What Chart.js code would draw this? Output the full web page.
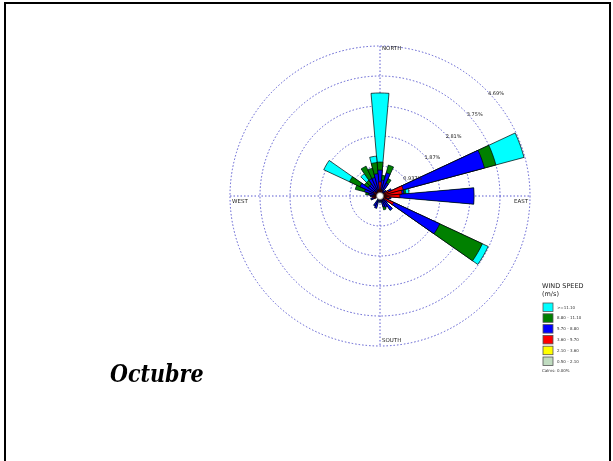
<!DOCTYPE html>
<html>
<head>
<meta charset="utf-8">
<title>Octubre - Rosa de vientos</title>
<script src="https://cdn.jsdelivr.net/npm/chart.js@4/dist/chart.umd.min.js"></script>
<style>
  html, body { margin: 0; padding: 0; background: #ffffff; }
  canvas { display: block; }
</style>
</head>
<body>
<canvas id="rose" width="613" height="461"></canvas>
<script>
// 36 direction sectors, 10 degrees each, clockwise from north
const directions = Array.from({ length: 36 }, (_, i) => (i * 10) + '°');

// Frequency (%) of each wind-speed class per direction sector
const speed050_210  = [0,0,0,0,0,0,0,0,0,0,0,0,0,0,0,0,0,0,0,0,0,0,0,0,0,0,0,0,0,0,0,0,0,0,0,0];
const speed210_360  = [0.03,0.03,0.03,0,0,0,0.03,0.05,0.05,0.05,0.03,0,0.05,0,0,0,0,0,0.1,0,0,0,0,0,0,0,0.03,0.03,0,0,0.03,0,0,0.03,0.03,0.03];
const speed360_570  = [0.41,0.17,0.16,0.1,0.08,0.1,0.27,0.7,0.64,0.57,0.27,0.2,0.42,0.1,0.1,0.1,0.05,0,0,0,0.1,0,0,0,0.1,0.2,0.22,0.17,0.15,0.15,0.19,0.15,0.15,0.12,0.17,0.17];
const speed570_880  = [0.37,0.3,0.56,0.35,0.12,0.15,0.1,2.63,0.06,2.32,0.05,0.1,1.59,0.2,0.45,0.3,0.3,0.15,0.1,0.1,0.3,0.35,0,0,0,0.1,0,0.1,0.2,0.35,0.47,0.3,0.3,0.45,0.4,0.5];
const speed880_1110 = [0.25,0.15,0.25,0.15,0,0,0,0.37,0.06,0,0,0,1.47,0,0,0,0.1,0,0,0,0,0,0,0,0,0,0,0,0.1,0.3,0.36,0.15,0.15,0.43,0.3,0.35];
const speedOver1110 = [2.16,0,0,0,0,0,0,0.91,0.1,0,0,0,0.2,0,0,0,0,0,0,0,0,0,0,0,0,0,0,0,0,0,0.89,0,0.25,0,0,0.2];

const classSeries = [speed050_210, speed210_360, speed360_570, speed570_880, speed880_1110, speedOver1110];
const classLabels = ['0.50 - 2.10', '2.10 - 3.60', '3.60 - 5.70', '5.70 - 8.80', '8.80 - 11.10', '>=11.10'];
const calmsLabel = 'Calms: 0.00%';

// Ring scale (percent)
const ringStep = 0.9375;
const ringMax = 4.6875;
const ringLabels = ['0.937%', '1.87%', '2.81%', '3.75%', '4.69%'];

const classColors = ['#c0dcc0', '#ffff00', '#ff0000', '#0000ff', '#008000', '#00ffff'];
const gridBlue = '#5a5ad0';

// Stacked petals: each class is drawn out to its cumulative frequency,
// the outermost class first so the inner ones sit on top of it.
const cumulative = [];
classSeries.forEach((series, k) => {
  cumulative.push(series.map((v, i) => (k ? cumulative[k - 1][i] : 0) + v));
});
const datasets = classSeries.map((series, k) => ({
  label: classLabels[k],
  data: cumulative[k].map(v => +v.toFixed(3)),
  backgroundColor: classColors[k],
  borderColor: '#000000',
  borderWidth: ctx => (series[ctx.dataIndex] > 0 ? 0.7 : 0),
  borderJoinStyle: 'miter'
}));

const roseDecor = {
  id: 'roseDecor',
  beforeDraw(chart) {
    const ctx = chart.ctx;
    ctx.save();
    ctx.fillStyle = '#ffffff';
    ctx.fillRect(0, 0, chart.width, chart.height);
    // page frame
    ctx.fillStyle = '#000000';
    ctx.fillRect(4, 2, 2, chart.height);
    ctx.fillRect(4, 2, 607, 2);
    ctx.fillRect(609, 2, 2, chart.height);
    ctx.restore();
  },
  beforeDatasetsDraw(chart) {
    const s = chart.scales.r;
    const ctx = chart.ctx;
    const R = s.drawingArea;
    ctx.save();
    ctx.strokeStyle = gridBlue;
    ctx.lineWidth = 1;
    ctx.setLineDash([1.5, 2]);
    ctx.beginPath();
    ctx.moveTo(s.xCenter, s.yCenter - R);
    ctx.lineTo(s.xCenter, s.yCenter + R);
    ctx.moveTo(s.xCenter - R, s.yCenter);
    ctx.lineTo(s.xCenter + R, s.yCenter);
    ctx.stroke();
    ctx.restore();
  },
  afterDatasetsDraw(chart) {
    const s = chart.scales.r;
    const ctx = chart.ctx;
    const cx = s.xCenter, cy = s.yCenter, R = s.drawingArea;
    ctx.save();

    // hub
    ctx.beginPath();
    ctx.arc(cx, cy, 3.5, 0, Math.PI * 2);
    ctx.fillStyle = '#ffffff';
    ctx.fill();
    ctx.lineWidth = 0.8;
    ctx.strokeStyle = '#666666';
    ctx.stroke();

    // ring labels along the 45 degree line
    ctx.fillStyle = '#222222';
    ctx.font = '5px "DejaVu Sans"';
    ctx.textAlign = 'left';
    ctx.textBaseline = 'middle';
    ringLabels.forEach((t, i) => {
      const r = s.getDistanceFromCenterForValue(ringStep * (i + 1));
      ctx.fillText(t, cx + r * Math.SQRT1_2 + 2, cy - r * Math.SQRT1_2 + 4);
    });

    // compass labels
    ctx.font = '5.5px "DejaVu Sans"';
    ctx.fillText('NORTH', cx + 2, cy - R + 3);
    ctx.fillText('SOUTH', cx + 2, cy + R - 5);
    ctx.fillText('WEST', cx - R + 2, cy + 6);
    ctx.textAlign = 'right';
    ctx.fillText('EAST', cx + R - 2, cy + 6);

    // wind speed legend
    const lx = 543, ly = 303;
    ctx.textAlign = 'left';
    ctx.font = '6.5px "DejaVu Sans"';
    ctx.fillStyle = '#222222';
    ctx.fillText('WIND SPEED', lx - 1, 286);
    ctx.fillText('(m/s)', lx - 1, 294);
    ctx.font = '4px "DejaVu Sans"';
    for (let k = classLabels.length - 1, row = 0; k >= 0; k--, row++) {
      const y = ly + row * 10.8;
      ctx.fillStyle = classColors[k];
      ctx.fillRect(lx, y, 10, 8.5);
      ctx.strokeStyle = '#555555';
      ctx.lineWidth = 0.8;
      ctx.strokeRect(lx, y, 10, 8.5);
      ctx.fillStyle = '#333333';
      ctx.fillText(classLabels[k], lx + 14, y + 4.5);
    }
    ctx.fillText(calmsLabel, lx - 1, 371);

    // month title, slightly condensed
    ctx.fillStyle = '#000000';
    ctx.font = 'italic bold 24px "DejaVu Serif"';
    ctx.textAlign = 'left';
    ctx.textBaseline = 'alphabetic';
    ctx.translate(110, 382);
    ctx.scale(0.86, 1);
    ctx.fillText('Octubre', 0, 0);
    ctx.restore();
  }
};

new Chart(document.getElementById('rose'), {
  type: 'polarArea',
  data: { labels: directions, datasets },
  options: {
    responsive: false,
    animation: false,
    layout: { padding: { left: 230, top: 46, right: 83, bottom: 115 } },
    plugins: { legend: { display: false }, tooltip: { enabled: false } },
    scales: {
      r: {
        min: 0,
        max: ringMax,
        startAngle: -5,
        ticks: { stepSize: ringStep, display: false },
        grid: { circular: true, color: gridBlue, lineWidth: 1 },
        border: { dash: [1.5, 2] },
        angleLines: { display: false },
        pointLabels: { display: false }
      }
    }
  },
  plugins: [roseDecor]
});
</script>
</body>
</html>
